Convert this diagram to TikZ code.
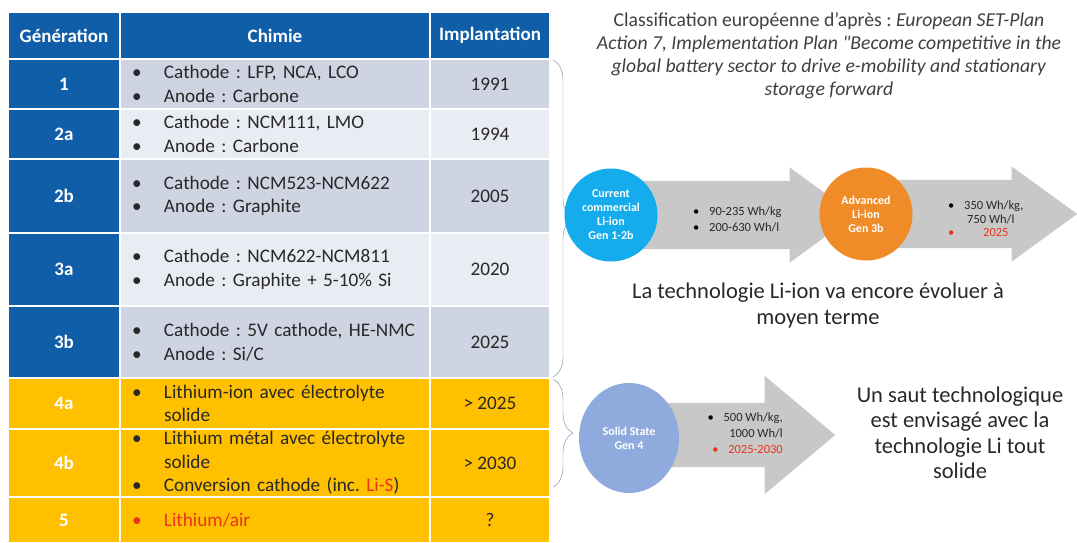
\documentclass[tikz,border=0pt]{standalone}
\usepackage{fontspec}
\setmainfont{Carlito}
\newfontfamily\notefont{Carlito}
\usepackage{tikz}
\usetikzlibrary{shapes,arrows,positioning,backgrounds,decorations.pathreplacing}

\definecolor{hdrblue}{RGB}{16,93,168}
\definecolor{rowdark}{RGB}{206,212,226}
\definecolor{rowlight}{RGB}{233,236,243}
\definecolor{gold}{RGB}{255,192,0}
\definecolor{txtgray}{RGB}{40,40,40}
\definecolor{notegray}{RGB}{64,64,64}
\definecolor{arrowgray}{RGB}{200,200,200}
\definecolor{ionblue}{RGB}{20,172,236}
\definecolor{advorange}{RGB}{240,140,40}
\definecolor{solidblue}{RGB}{143,170,220}
\definecolor{hotred}{RGB}{232,52,28}
\definecolor{bracegray}{RGB}{105,130,165}

\newcommand{\bul}{\hspace*{7pt}\makebox[32pt][l]{\textbullet}}
\newcommand{\indnt}{\hspace*{39pt}}
\newcommand{\sbul}[1][black]{\makebox[16pt][l]{\color{#1}\textbullet}}
\frenchspacing

\begin{document}
\begin{tikzpicture}[
    x=1pt, y=-1pt,
    cell/.style={rectangle, draw=white, line width=2.5pt, inner sep=0pt, outer sep=0pt, text=txtgray, font=\fontsize{19.2}{23.5}\selectfont},
    hdr/.style={cell, fill=hdrblue, text=white, font=\fontsize{19}{20}\selectfont\bfseries},
    gen/.style={hdr, minimum width=112pt},
    chim/.style={cell, minimum width=310pt, text width=300pt, align=left},
    impl/.style={cell, minimum width=120pt},
    bubble/.style={circle, text=white, align=center, font=\fontsize{12}{14}\selectfont\bfseries},
    bigarrow/.style={single arrow, fill=arrowgray, single arrow head indent=0pt, anchor=tail, inner xsep=0pt},
    figs/.style={text=txtgray, inner sep=0pt, font=\fontsize{12.5}{16}\selectfont},
    note/.style={text=notegray, align=center}
]
\useasboundingbox (0,0) rectangle (1077,543);

% table
\node[gen, minimum height=47pt, anchor=north west] (hgen) at (8,12) {Génération};
\node[hdr, minimum width=310pt, minimum height=47pt, right=0pt of hgen] (hchim) {Chimie};
\node[hdr, minimum width=120pt, minimum height=47pt, right=0pt of hchim] (himpl) {Implantation};

\node[gen, minimum height=50pt, below=0pt of hgen] (g1) {1};
\node[chim, fill=rowdark, minimum height=50pt, right=0pt of g1] (c1) {\bul Cathode : LFP, NCA, LCO\\\bul Anode : Carbone};
\node[impl, fill=rowdark, minimum height=50pt, right=0pt of c1] (y1) {1991};

\node[gen, minimum height=50pt, below=0pt of g1] (g2a) {2a};
\node[chim, fill=rowlight, minimum height=50pt, right=0pt of g2a] (c2a) {\bul Cathode : NCM111, LMO\\\bul Anode : Carbone};
\node[impl, fill=rowlight, minimum height=50pt, right=0pt of c2a] (y2a) {1994};

\node[gen, minimum height=74pt, below=0pt of g2a] (g2b) {2b};
\node[chim, fill=rowdark, minimum height=74pt, right=0pt of g2b] (c2b) {\bul Cathode : NCM523-NCM622\\\bul Anode : Graphite};
\node[impl, fill=rowdark, minimum height=74pt, right=0pt of c2b] (y2b) {2005};

\node[gen, minimum height=73pt, below=0pt of g2b] (g3a) {3a};
\node[chim, fill=rowlight, minimum height=73pt, right=0pt of g3a] (c3a) {\bul Cathode : NCM622-NCM811\\\bul Anode : Graphite + 5-10\% Si};
\node[impl, fill=rowlight, minimum height=73pt, right=0pt of c3a] (y3a) {2020};

\node[gen, minimum height=72pt, below=0pt of g3a] (g3b) {3b};
\node[chim, fill=rowdark, minimum height=72pt, right=0pt of g3b] (c3b) {\bul Cathode : 5V cathode, HE-NMC\\\bul Anode : Si/C};
\node[impl, fill=rowdark, minimum height=72pt, right=0pt of c3b] (y3b) {2025};

\node[gen, fill=gold, minimum height=51pt, below=0pt of g3b] (g4a) {4a};
\node[chim, fill=gold, minimum height=51pt, right=0pt of g4a] (c4a) {\bul Lithium-ion avec électrolyte\\\indnt solide};
\node[impl, fill=gold, minimum height=51pt, right=0pt of c4a] (y4a) {> 2025};

\node[gen, fill=gold, minimum height=68pt, below=0pt of g4a] (g4b) {4b};
\node[chim, fill=gold, minimum height=68pt, right=0pt of g4b] (c4b) {\bul Lithium métal avec électrolyte\\\indnt solide\\\bul Conversion cathode (inc. {\color{hotred}Li-S})};
\node[impl, fill=gold, minimum height=68pt, right=0pt of c4b] (y4b) {> 2030};

\node[gen, fill=gold, minimum height=46pt, below=0pt of g4b] (g5) {5};
\node[chim, fill=gold, minimum height=46pt, right=0pt of g5, text=hotred] (c5) {\bul Lithium/air};
\node[impl, fill=gold, minimum height=46pt, right=0pt of c5] (y5) {?};

% braces
\draw[bracegray, thin, decorate, decoration={brace, amplitude=20pt}] ([xshift=3pt, yshift=-1pt]y1.north east) -- ([xshift=3pt, yshift=1pt]y3b.south east);
\draw[bracegray, thin, decorate, decoration={brace, amplitude=20pt}] ([xshift=3pt, yshift=-1pt]y4a.north east) -- ([xshift=3pt, yshift=10pt]y4b.south east);

% source note
\node[note, font=\notefont\fontsize{19.7}{23}\selectfont] (src) at (829,56) {Classification européenne d’après : \textit{European SET-Plan}\\\textit{Action 7, Implementation Plan "Become competitive in the}\\\textit{global battery sector to drive e-mobility and stationary}\\\textit{storage forward}};

% generations
\node[bubble, fill=ionblue, minimum size=93pt] (cur) at (611,215) {Current\\commercial\\Li-ion\\Gen 1-2b};
\node[bubble, fill=advorange, minimum size=93pt] (adv) at (866,214) {Advanced\\Li-ion\\Gen 3b};
\node[bubble, ellipse, fill=solidblue, minimum width=100pt, minimum height=110pt] (sol) at (629,438) {Solid State\\Gen 4};

\begin{scope}[on background layer]
\node[bigarrow, inner ysep=34pt, minimum height=215pt, minimum width=95pt, single arrow head extend=13.5pt, single arrow tip angle=72] (ar1) at (640,215) {};
\node[bigarrow, inner ysep=34pt, minimum height=197pt, minimum width=95pt, single arrow head extend=13.5pt, single arrow tip angle=72] (ar2) at (880,214) {};
\node[bigarrow, inner ysep=32pt, minimum height=185pt, minimum width=118pt, single arrow head extend=27pt, single arrow tip angle=80] (ar3) at (650,435) {};
\end{scope}

\node[figs, anchor=west, align=left] (v1) at ([xshift=53pt, yshift=-4pt]ar1.tail) {\sbul 90-235 Wh/kg\\\sbul 200-630 Wh/l};
\node[figs, anchor=west, align=left, font=\fontsize{12.5}{13.5}\selectfont] (v2) at ([xshift=68pt, yshift=-5pt]ar2.tail) {\sbul 350 Wh/kg,\\\hspace*{19pt}750 Wh/l\\\sbul[hotred]\hspace*{19pt}{\color{hotred}2025}};
\node[figs, anchor=east, align=right] (v3) at ([xshift=133pt, yshift=2pt]ar3.tail) {\sbul 500 Wh/kg,\\1000 Wh/l\\\sbul[hotred]{\color{hotred}2025-2030}};

\node[note, text=txtgray, font=\fontsize{22.5}{26}\selectfont] (evol) at (818,305) {La technologie Li-ion va encore évoluer à\\moyen terme};
\node[note, text=txtgray, font=\fontsize{22.5}{25.5}\selectfont] (leap) at (960,433) {Un saut technologique\\est envisagé avec la\\technologie Li tout\\solide};

\end{tikzpicture}
\end{document}
